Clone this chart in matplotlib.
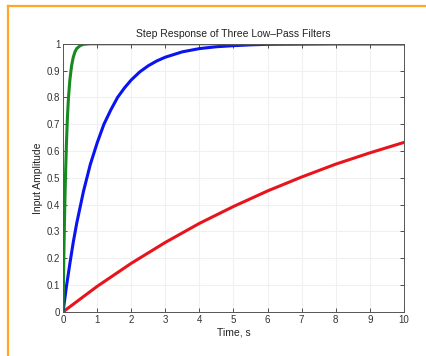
import matplotlib
matplotlib.use("Agg")
import matplotlib.pyplot as plt
from matplotlib.lines import Line2D

plt.rcParams['font.family'] = ['Liberation Sans', 'DejaVu Sans']

# values
t_green = [0, 0.01, 0.02, 0.03, 0.05, 0.07, 0.1, 0.13, 0.16, 0.2, 0.25, 0.3, 0.35, 0.4, 0.5, 0.6, 0.8, 1, 10]
y_green = [0, 0.095, 0.18, 0.26, 0.39, 0.50, 0.63, 0.73, 0.80, 0.865, 0.918, 0.95, 0.97, 0.982, 0.993, 0.998, 1.0, 1.0, 1.0]

t_blue = [0, 0.1, 0.2, 0.3, 0.4, 0.5, 0.6, 0.7, 0.8, 0.9, 1, 1.2, 1.4, 1.6, 1.8, 2, 2.25, 2.5, 2.75,
          3, 3.5, 4, 4.5, 5, 5.5, 6, 7, 8, 10]
y_blue = [0, 0.095, 0.18, 0.26, 0.33, 0.39, 0.45, 0.50, 0.55, 0.59, 0.63, 0.70, 0.753, 0.80, 0.835,
          0.865, 0.895, 0.918, 0.936, 0.95, 0.97, 0.982, 0.989, 0.993, 0.996, 0.998, 0.999, 1.0, 1.0]

t_red = [0, 1, 2, 3, 4, 5, 6, 7, 8, 9, 10]
y_red = [0, 0.095, 0.181, 0.259, 0.33, 0.393, 0.451, 0.503, 0.551, 0.593, 0.632]

xticks = list(range(0, 11))
yticks = [0, 0.1, 0.2, 0.3, 0.4, 0.5, 0.6, 0.7, 0.8, 0.9, 1]
ytick_labels = ['0', '0.1', '0.2', '0.3', '0.4', '0.5', '0.6', '0.7', '0.8', '0.9', '1']

fig = plt.figure(figsize=(4.26, 3.56), dpi=100)
fig.patch.set_facecolor('white')

# orange frame (top and left edges visible)
fig.add_artist(Line2D([0.019, 1.0], [0.983, 0.983], transform=fig.transFigure,
                      color='#ffa826', lw=1.6))
fig.add_artist(Line2D([0.019, 0.019], [0.0, 0.983], transform=fig.transFigure,
                      color='#ffa826', lw=1.6))

ax = fig.add_axes([0.148, 0.124, 0.800, 0.753])
ax.plot(t_red, y_red, color='#e8141c', lw=2.2, solid_joinstyle='round')
ax.plot(t_blue, y_blue, color='#0a14f0', lw=2.2, solid_joinstyle='round')
ax.plot(t_green, y_green, color='#168a1e', lw=2.2, solid_joinstyle='round')

ax.set_xlim(0, 10)
ax.set_ylim(0, 1)
ax.set_xticks(xticks)
ax.set_yticks(yticks)
ax.set_yticklabels(ytick_labels)
ax.grid(True, color='#f0f0f0', lw=0.8)
ax.tick_params(direction='in', length=3, width=0.6, labelsize=7, colors='#333333',
               top=True, right=True, pad=2)
for s in ax.spines.values():
    s.set_color('#555555')
    s.set_linewidth(0.7)

ax.set_title('Step Response of Three Low\u2013Pass Filters', fontsize=7.5, pad=5, color='#222222')
ax.set_xlabel('Time, s', fontsize=7.5, labelpad=2, color='#222222')
ax.set_ylabel('Input Amplitude', fontsize=7.5, labelpad=3, color='#222222')

fig.savefig('out.png', dpi=100)
